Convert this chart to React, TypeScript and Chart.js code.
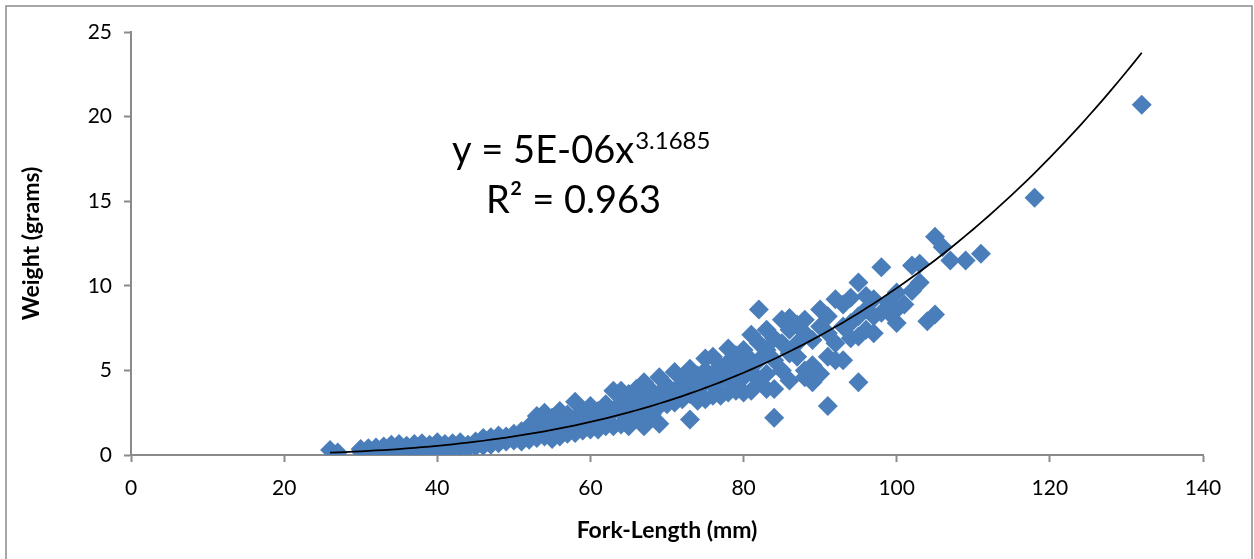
import { useEffect, useRef } from "react";
import { Chart, registerables } from "chart.js";

Chart.register(...registerables);

// Fork length (mm) of each sampled group of fish
const forkLengths = [
  26, 27, 30, 31, 32, 33, 34, 35, 36, 37, 38, 39, 40, 41, 42, 43, 44, 45, 46, 47, 48, 49, 50,
  51, 52, 53, 54, 55, 56, 57, 58, 59, 60, 61, 62, 63, 64, 65, 66, 67, 68, 69, 70,
  71, 72, 73, 74, 75, 76, 77, 78, 79, 80, 81, 82, 83, 84, 85, 86, 87, 88, 89, 90,
  91, 92, 93, 94, 95, 96, 97, 98, 99, 100, 101, 102, 103, 104, 105, 106, 107, 109, 111, 118, 132,
];

// Weights (grams) observed at each fork length above
const weightsAtLength = [
  [0.3], [0.15], [0.2, 0.35], [0.15, 0.4], [0.25, 0.45], [0.2, 0.5], [0.3, 0.6], [0.25, 0.45, 0.65],
  [0.2, 0.55], [0.3, 0.65], [0.25, 0.5, 0.7], [0.35, 0.6], [0.3, 0.55, 0.75], [0.4, 0.65], [0.35, 0.7],
  [0.45, 0.75], [0.4, 0.6], [0.5, 0.8], [0.55, 1.0], [0.6, 1.05], [0.7, 1.15], [0.8, 1.1], [0.85, 1.25],
  [0.8, 1.1, 1.4], [0.9, 1.3, 1.7], [1.0, 1.5, 2.3], [1.1, 1.8, 2.5], [0.95, 1.4, 2.2], [1.1, 1.7, 2.6],
  [1.25, 1.9, 2.4], [1.3, 2.0, 3.15], [1.45, 2.2, 2.6], [1.5, 2.3, 2.9], [1.5, 2.1, 2.6], [1.7, 2.4, 3.0],
  [1.7, 2.6, 3.8], [1.8, 2.5, 3.1, 3.8], [1.7, 2.1, 2.9, 3.6], [2.2, 3.0, 3.9], [1.7, 2.8, 3.4, 4.3],
  [2.4, 3.2, 3.8], [1.85, 2.9, 3.6, 4.6], [3.0, 3.5, 4.1],
  [3.1, 3.8, 4.9], [3.3, 4.2, 4.6], [2.1, 3.6, 4.4, 5.1], [3.2, 3.9, 4.7], [3.3, 4.3, 5.0, 5.7],
  [3.5, 4.1, 4.8, 5.8], [3.5, 4.4, 5.2], [3.7, 4.6, 5.5, 6.3], [3.8, 4.2, 5.0, 5.9], [3.7, 4.6, 5.4, 6.2],
  [3.8, 4.9, 5.6, 7.1], [4.4, 5.6, 6.6, 8.6], [3.9, 4.8, 6.2, 7.4], [2.2, 3.9, 5.6, 6.9], [5.0, 6.6, 8.0],
  [4.4, 6.0, 7.4, 8.1], [5.8, 6.6, 7.7], [4.6, 5.0, 7.2, 8.0], [4.3, 5.3, 6.8], [4.8, 7.6, 8.6],
  [2.9, 5.8, 7.2, 8.2], [5.6, 6.6, 9.2], [5.6, 7.6, 8.9], [6.9, 7.8, 9.3], [4.3, 7.0, 8.2, 10.2],
  [7.4, 8.6, 9.4], [7.2, 8.2, 9.2], [8.4, 11.1], [8.4, 9.0], [7.8, 8.6, 9.6], [8.9], [9.7, 11.2],
  [10.2, 11.3], [7.9], [8.3, 12.9], [12.3], [11.5], [11.5], [11.9], [15.2], [20.7],
];

// Power trendline  y = a * x^b  (coefficient shown rounded as 5E-06)
const trendCoefficient = 4.54e-6;
const trendExponent = 3.1685;
const trendStart = 26;
const trendEnd = 132;

const equationText = "y = 5E-06x";
const equationExponentText = "3.1685";
const rSquaredText = "R\u00B2 = 0.963";

const xAxisTitle = "Fork-Length (mm)";
const yAxisTitle = "Weight (grams)";

const FONT = "Lato, 'Open Sans', sans-serif";
const AXIS_GREY = "#8a8a8a";
const MARKER_BLUE = "#4a7ebb";

export default function App() {
  const canvasRef = useRef<HTMLCanvasElement | null>(null);

  useEffect(() => {
    const canvas = canvasRef.current;
    if (!canvas) return;

    const points: { x: number; y: number }[] = [];
    forkLengths.forEach((len, i) => {
      weightsAtLength[i].forEach((w) => points.push({ x: len, y: w }));
    });

    const trend: { x: number; y: number }[] = [];
    for (let x = trendStart; x <= trendEnd; x += 1) {
      trend.push({ x, y: trendCoefficient * Math.pow(x, trendExponent) });
    }

    const decor = {
      id: "decor",
      beforeDraw(chart: any) {
        const ctx = chart.ctx;
        ctx.save();
        ctx.fillStyle = "#ffffff";
        ctx.fillRect(0, 0, chart.width, chart.height);
        ctx.restore();
      },
      afterDraw(chart: any) {
        const ctx = chart.ctx;
        ctx.save();
        ctx.strokeStyle = AXIS_GREY;
        ctx.lineWidth = 1.5;
        ctx.strokeRect(6, 6, 1246, 600);
        ctx.fillStyle = "#000000";
        ctx.textBaseline = "alphabetic";
        ctx.textAlign = "left";
        ctx.font = `38px ${FONT}`;
        ctx.fillText(equationText, 452, 163);
        const w = ctx.measureText(equationText).width;
        ctx.font = `24px ${FONT}`;
        ctx.fillText(equationExponentText, 452 + w + 1, 149);
        ctx.font = `38px ${FONT}`;
        ctx.fillText(rSquaredText, 486, 213);
        ctx.restore();
      },
    };

    const chart = new Chart(canvas, {
      type: "scatter",
      data: {
        datasets: [
          {
            type: "line",
            data: trend,
            borderColor: "#000000",
            borderWidth: 1.75,
            pointRadius: 0,
            fill: false,
            tension: 0,
            order: 0,
          } as any,
          {
            data: points,
            backgroundColor: MARKER_BLUE,
            borderColor: MARKER_BLUE,
            borderWidth: 0,
            pointStyle: "rectRot",
            pointRadius: 10,
            order: 1,
          },
        ],
      },
      options: {
        animation: false,
        responsive: true,
        maintainAspectRatio: false,
        layout: { padding: { left: 0, top: 32, right: 51, bottom: 0 } },
        plugins: {
          legend: { display: false },
          tooltip: { enabled: false },
        },
        scales: {
          x: {
            type: "linear",
            min: 0,
            max: 140,
            ticks: {
              stepSize: 20,
              color: "#000000",
              font: { family: FONT, size: 21 },
              padding: 14,
            },
            grid: {
              drawOnChartArea: false,
              drawTicks: true,
              tickLength: 7,
              tickColor: AXIS_GREY,
              tickWidth: 2,
            },
            border: { display: true, color: AXIS_GREY, width: 2 },
            title: {
              display: true,
              text: xAxisTitle,
              color: "#000000",
              font: { family: FONT, size: 23, weight: "bold" },
              padding: { top: 0, bottom: 15 },
            },
            afterFit(scale: any) {
              scale.height = 104;
            },
          },
          y: {
            type: "linear",
            min: 0,
            max: 25,
            ticks: {
              stepSize: 5,
              color: "#000000",
              font: { family: FONT, size: 21 },
              padding: 12,
            },
            grid: {
              drawOnChartArea: false,
              drawTicks: true,
              tickLength: 7,
              tickColor: AXIS_GREY,
              tickWidth: 2,
            },
            border: { display: true, color: AXIS_GREY, width: 2 },
            title: {
              display: true,
              text: yAxisTitle,
              color: "#000000",
              font: { family: FONT, size: 23, weight: "bold" },
              padding: { top: 18, bottom: 0 },
            },
            afterFit(scale: any) {
              scale.width = 131;
            },
          },
        },
      },
      plugins: [decor],
    });

    return () => chart.destroy();
  }, []);

  return (
    <div style={{ position: "absolute", left: 0, top: 0, width: 1254, height: 559 }}>
      <canvas ref={canvasRef} />
    </div>
  );
}
